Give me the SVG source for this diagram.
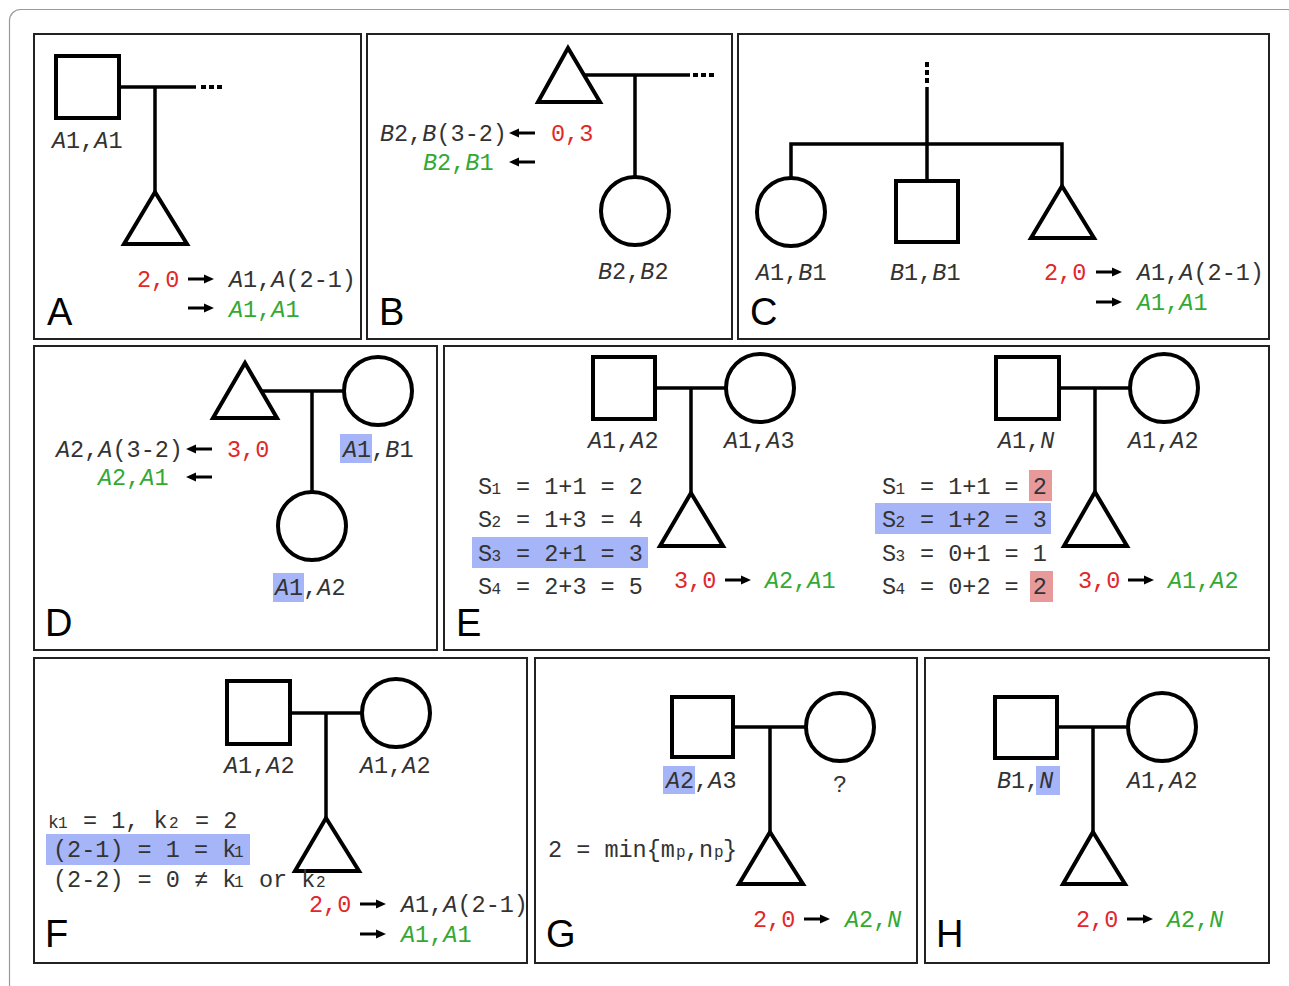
<svg xmlns="http://www.w3.org/2000/svg" width="1289" height="986" viewBox="0 0 1289 986">
<defs>
<style>
.panel{fill:#fff;stroke:#222;stroke-width:2}
.shape{fill:#fff;stroke:#000;stroke-width:4;stroke-linejoin:miter}
.link{fill:none;stroke:#000;stroke-width:3.5}
.dots{fill:none;stroke:#000;stroke-width:4;stroke-dasharray:5 3}
.arr{fill:none;stroke:#000;stroke-width:3;marker-end:url(#ah)}
.t{font-family:'Liberation Mono','DejaVu Sans Mono',monospace;font-size:23.5px;fill:#333}
.i{font-style:italic}
.red{fill:#e2272b}
.grn{fill:#33a933}
.sub{font-size:16px}
.lab{font-family:'Liberation Sans',Arial,sans-serif;font-size:38px;fill:#000}
.hl{fill:#a6b5f7}
.pk{fill:#e89a9a}
</style>
<marker id="ah" viewBox="0 0 10 10" refX="1" refY="5" markerWidth="10" markerHeight="10" markerUnits="userSpaceOnUse" orient="auto">
<path d="M0,0.5 L10,5 L0,9.5 z" fill="#000"/>
</marker>
</defs>
<rect width="1289" height="986" fill="#fff"/>
<rect x="9.5" y="9.5" width="1289" height="990" rx="11" fill="none" stroke="#999" stroke-width="1.2"/>

<!-- Panel A -->
<g id="A">
<rect class="panel" x="34" y="34" width="327" height="305"/>
<g id="A-links">
<line class="link" x1="119" y1="87" x2="196" y2="87"/>
<line class="dots" x1="201" y1="87" x2="222" y2="87"/>
<line class="link" x1="155" y1="87" x2="155" y2="192"/>
</g>
<g id="A-father"><rect class="shape" x="56" y="56" width="63" height="62"/>
<text class="t" x="52" y="148"><tspan class="i">A</tspan>1,<tspan class="i">A</tspan>1</text></g>
<g id="A-child"><polygon class="shape" points="155,192 187,244 124,244"/></g>
<g id="A-result">
<text class="t red" x="137" y="287">2,0</text>
<line class="arr" x1="188" y1="279" x2="205" y2="279"/>
<text class="t" x="229" y="287"><tspan class="i">A</tspan>1,<tspan class="i">A</tspan>(2-1)</text>
<line class="arr" x1="188" y1="308" x2="205" y2="308"/>
<text class="t grn" x="229" y="317"><tspan class="i">A</tspan>1,<tspan class="i">A</tspan>1</text>
</g>
<text class="lab" x="47" y="325">A</text>
</g>

<!-- Panel B -->
<g id="B">
<rect class="panel" x="367" y="34" width="365" height="305"/>
<g id="B-links">
<line class="link" x1="584" y1="75" x2="690" y2="75"/>
<line class="dots" x1="693" y1="75" x2="714" y2="75"/>
<line class="link" x1="635" y1="75" x2="635" y2="177"/>
</g>
<g id="B-child"><polygon class="shape" points="568,48 600,102 538,102"/></g>
<g id="B-mother"><circle class="shape" cx="635" cy="211" r="34"/>
<text class="t" x="598" y="279"><tspan class="i">B</tspan>2,<tspan class="i">B</tspan>2</text></g>
<g id="B-result">
<text class="t" x="380" y="141"><tspan class="i">B</tspan>2,<tspan class="i">B</tspan>(3-2)</text>
<line class="arr" x1="535" y1="133" x2="518" y2="133"/>
<text class="t red" x="551" y="141">0,3</text>
<text class="t grn" x="423" y="170"><tspan class="i">B</tspan>2,<tspan class="i">B</tspan>1</text>
<line class="arr" x1="535" y1="162" x2="518" y2="162"/>
</g>
<text class="lab" x="379" y="325">B</text>
</g>

<!-- Panel C -->
<g id="C">
<rect class="panel" x="738" y="34" width="531" height="305"/>
<g id="C-links">
<line class="dots" x1="927" y1="62" x2="927" y2="86"/>
<line class="link" x1="927" y1="87" x2="927" y2="181"/>
<polyline class="link" points="791,178 791,144 1062,144 1062,186"/>
</g>
<g id="C-sister"><circle class="shape" cx="791" cy="212" r="34"/>
<text class="t" x="756" y="280"><tspan class="i">A</tspan>1,<tspan class="i">B</tspan>1</text></g>
<g id="C-brother"><rect class="shape" x="896" y="181" width="62" height="61"/>
<text class="t" x="890" y="280"><tspan class="i">B</tspan>1,<tspan class="i">B</tspan>1</text></g>
<g id="C-child"><polygon class="shape" points="1062,186 1094,238 1031,238"/></g>
<g id="C-result">
<text class="t red" x="1044" y="280">2,0</text>
<line class="arr" x1="1096" y1="272" x2="1113" y2="272"/>
<text class="t" x="1137" y="280"><tspan class="i">A</tspan>1,<tspan class="i">A</tspan>(2-1)</text>
<line class="arr" x1="1096" y1="302" x2="1113" y2="302"/>
<text class="t grn" x="1137" y="310"><tspan class="i">A</tspan>1,<tspan class="i">A</tspan>1</text>
</g>
<text class="lab" x="750" y="325">C</text>
</g>

<!-- Panel D -->
<g id="D">
<rect class="panel" x="34" y="346" width="403" height="304"/>
<g id="D-links">
<line class="link" x1="261" y1="391" x2="344" y2="391"/>
<line class="link" x1="312" y1="391" x2="312" y2="492"/>
</g>
<g id="D-child"><polygon class="shape" points="245,363 277,418 213,418"/></g>
<g id="D-mate"><circle class="shape" cx="378" cy="391" r="34"/>
<rect class="hl" x="340" y="434" width="32" height="29"/>
<text class="t" x="343" y="457"><tspan class="i">A</tspan>1,<tspan class="i">B</tspan>1</text></g>
<g id="D-offspring"><circle class="shape" cx="312" cy="526" r="34"/>
<rect class="hl" x="273" y="573" width="31" height="29"/>
<text class="t" x="275" y="595"><tspan class="i">A</tspan>1,<tspan class="i">A</tspan>2</text></g>
<g id="D-result">
<text class="t" x="56" y="457"><tspan class="i">A</tspan>2,<tspan class="i">A</tspan>(3-2)</text>
<line class="arr" x1="212" y1="449" x2="195" y2="449"/>
<text class="t red" x="227" y="457">3,0</text>
<text class="t grn" x="98" y="485"><tspan class="i">A</tspan>2,<tspan class="i">A</tspan>1</text>
<line class="arr" x1="212" y1="477" x2="195" y2="477"/>
</g>
<text class="lab" x="45" y="636">D</text>
</g>

<!-- Panel E -->
<g id="E">
<rect class="panel" x="444" y="346" width="825" height="304"/>
<g id="E-links">
<line class="link" x1="655" y1="388" x2="726" y2="388"/>
<line class="link" x1="691" y1="388" x2="691" y2="493"/>
<line class="link" x1="1059" y1="388" x2="1130" y2="388"/>
<line class="link" x1="1095" y1="388" x2="1095" y2="492"/>
</g>
<g id="E1-father"><rect class="shape" x="593" y="357" width="62" height="62"/>
<text class="t" x="588" y="448"><tspan class="i">A</tspan>1,<tspan class="i">A</tspan>2</text></g>
<g id="E1-mother"><circle class="shape" cx="760" cy="388" r="34"/>
<text class="t" x="724" y="448"><tspan class="i">A</tspan>1,<tspan class="i">A</tspan>3</text></g>
<g id="E1-child"><polygon class="shape" points="691,493 723,546 660,546"/></g>
<g id="E1-sums">
<rect class="hl" x="472" y="537" width="176" height="31"/>
<text class="t" x="478" y="494">S<tspan class="sub" x="491.5">1</tspan><tspan x="516">= 1+1 = 2</tspan></text>
<text class="t" x="478" y="527">S<tspan class="sub" x="491.5">2</tspan><tspan x="516">= 1+3 = 4</tspan></text>
<text class="t" x="478" y="561">S<tspan class="sub" x="491.5">3</tspan><tspan x="516">= 2+1 = 3</tspan></text>
<text class="t" x="478" y="594">S<tspan class="sub" x="491.5">4</tspan><tspan x="516">= 2+3 = 5</tspan></text>
</g>
<g id="E1-result">
<text class="t red" x="674" y="588">3,0</text>
<line class="arr" x1="725" y1="580" x2="742" y2="580"/>
<text class="t grn" x="765" y="588"><tspan class="i">A</tspan>2,<tspan class="i">A</tspan>1</text>
</g>
<g id="E2-father"><rect class="shape" x="996" y="357" width="63" height="62"/>
<text class="t" x="998" y="448"><tspan class="i">A</tspan>1,<tspan class="i">N</tspan></text></g>
<g id="E2-mother"><circle class="shape" cx="1164" cy="388" r="34"/>
<text class="t" x="1128" y="448"><tspan class="i">A</tspan>1,<tspan class="i">A</tspan>2</text></g>
<g id="E2-child"><polygon class="shape" points="1095,492 1127,546 1064,546"/></g>
<g id="E2-sums">
<rect class="pk" x="1029" y="470" width="23" height="31"/>
<rect class="hl" x="875" y="503" width="176" height="31"/>
<rect class="pk" x="1030" y="571" width="23" height="31"/>
<text class="t" x="882" y="494">S<tspan class="sub" x="895.5">1</tspan><tspan x="920">= 1+1 = 2</tspan></text>
<text class="t" x="882" y="527">S<tspan class="sub" x="895.5">2</tspan><tspan x="920">= 1+2 = 3</tspan></text>
<text class="t" x="882" y="561">S<tspan class="sub" x="895.5">3</tspan><tspan x="920">= 0+1 = 1</tspan></text>
<text class="t" x="882" y="594">S<tspan class="sub" x="895.5">4</tspan><tspan x="920">= 0+2 = 2</tspan></text>
</g>
<g id="E2-result">
<text class="t red" x="1078" y="588">3,0</text>
<line class="arr" x1="1128" y1="580" x2="1145" y2="580"/>
<text class="t grn" x="1168" y="588"><tspan class="i">A</tspan>1,<tspan class="i">A</tspan>2</text>
</g>
<text class="lab" x="456" y="636">E</text>
</g>

<!-- Panel F -->
<g id="F">
<rect class="panel" x="34" y="658" width="493" height="305"/>
<g id="F-links">
<line class="link" x1="290" y1="713" x2="362" y2="713"/>
<line class="link" x1="326" y1="713" x2="326" y2="818"/>
</g>
<g id="F-father"><rect class="shape" x="227" y="681" width="63" height="63"/>
<text class="t" x="224" y="773"><tspan class="i">A</tspan>1,<tspan class="i">A</tspan>2</text></g>
<g id="F-mother"><circle class="shape" cx="396" cy="713" r="34"/>
<text class="t" x="360" y="773"><tspan class="i">A</tspan>1,<tspan class="i">A</tspan>2</text></g>
<g id="F-child"><polygon class="shape" points="326,818 359,871 295,871"/></g>
<g id="F-eq">
<rect class="hl" x="46" y="834" width="204" height="31"/>
<text class="t" x="48" y="828"><tspan style="font-size:18px">k</tspan><tspan class="sub" x="58">1</tspan><tspan x="83">= 1, k</tspan><tspan class="sub" x="169">2</tspan><tspan x="195">= 2</tspan></text>
<text class="t" x="53" y="857">(2-1) = 1 = k<tspan class="sub" x="234">1</tspan></text>
<text class="t" x="53" y="887">(2-2) = 0 ≠ k<tspan class="sub" x="234">1</tspan><tspan x="259">or k</tspan><tspan class="sub" x="316">2</tspan></text>
</g>
<g id="F-result">
<text class="t red" x="309" y="912">2,0</text>
<line class="arr" x1="360" y1="904" x2="377" y2="904"/>
<text class="t" x="401" y="912"><tspan class="i">A</tspan>1,<tspan class="i">A</tspan>(2-1)</text>
<line class="arr" x1="360" y1="934" x2="377" y2="934"/>
<text class="t grn" x="401" y="942"><tspan class="i">A</tspan>1,<tspan class="i">A</tspan>1</text>
</g>
<text class="lab" x="45" y="947">F</text>
</g>

<!-- Panel G -->
<g id="G">
<rect class="panel" x="535" y="658" width="382" height="305"/>
<g id="G-links">
<line class="link" x1="733" y1="727" x2="805" y2="727"/>
<line class="link" x1="770" y1="727" x2="770" y2="832"/>
</g>
<g id="G-father"><rect class="shape" x="672" y="697" width="61" height="60"/>
<rect class="hl" x="663" y="766" width="32" height="28"/>
<text class="t" x="666" y="788"><tspan class="i">A</tspan>2,<tspan class="i">A</tspan>3</text></g>
<g id="G-mother"><circle class="shape" cx="840" cy="727" r="34"/>
<text class="t" x="833" y="792">?</text></g>
<g id="G-child"><polygon class="shape" points="770,832 803,884 739,884"/></g>
<g id="G-eq">
<text class="t" x="548" y="857">2 = min{m<tspan class="sub" x="676">p</tspan><tspan x="685">,n</tspan><tspan class="sub" x="714">p</tspan><tspan x="723">}</tspan></text>
</g>
<g id="G-result">
<text class="t red" x="753" y="927">2,0</text>
<line class="arr" x1="804" y1="919" x2="821" y2="919"/>
<text class="t grn" x="845" y="927"><tspan class="i">A</tspan>2,<tspan class="i">N</tspan></text>
</g>
<text class="lab" x="546" y="947">G</text>
</g>

<!-- Panel H -->
<g id="H">
<rect class="panel" x="925" y="658" width="344" height="305"/>
<g id="H-links">
<line class="link" x1="1057" y1="727" x2="1128" y2="727"/>
<line class="link" x1="1093" y1="727" x2="1093" y2="832"/>
</g>
<g id="H-father"><rect class="shape" x="995" y="697" width="62" height="61"/>
<rect class="hl" x="1036" y="766" width="24" height="29"/>
<text class="t" x="997" y="788"><tspan class="i">B</tspan>1,<tspan class="i">N</tspan></text></g>
<g id="H-mother"><circle class="shape" cx="1162" cy="727" r="34"/>
<text class="t" x="1127" y="788"><tspan class="i">A</tspan>1,<tspan class="i">A</tspan>2</text></g>
<g id="H-child"><polygon class="shape" points="1093,832 1125,884 1063,884"/></g>
<g id="H-result">
<text class="t red" x="1076" y="927">2,0</text>
<line class="arr" x1="1127" y1="919" x2="1144" y2="919"/>
<text class="t grn" x="1167" y="927"><tspan class="i">A</tspan>2,<tspan class="i">N</tspan></text>
</g>
<text class="lab" x="936" y="947">H</text>
</g>
</svg>
